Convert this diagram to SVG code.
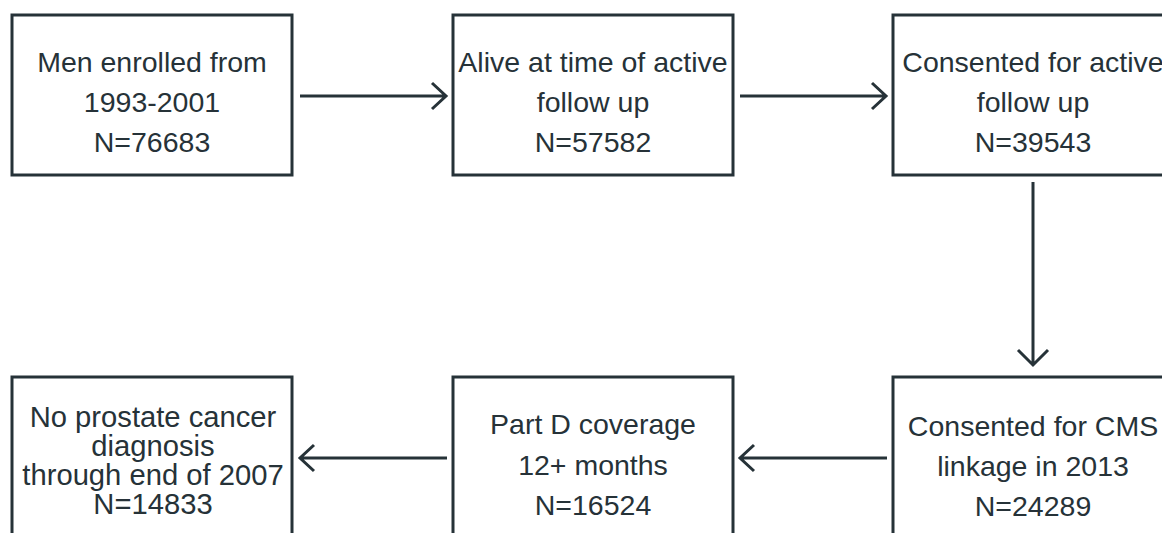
<svg xmlns="http://www.w3.org/2000/svg" width="1162" height="533" viewBox="0 0 1162 533">
<style>
.box{fill:#ffffff;stroke:#263238;stroke-width:3}
.t{font-family:"Liberation Sans",Arial,sans-serif;font-size:28.5px;fill:#263238;text-anchor:middle}
.t2{font-size:29.2px}
.c{fill:none;stroke:#263238;stroke-width:3}
</style>
<rect width="1162" height="533" fill="#ffffff"/>
<g id="node-men-enrolled">
<rect class="box" x="12" y="15" width="280" height="160"/>
<text class="t" x="152" y="72">Men enrolled from</text>
<text class="t" x="152" y="112">1993-2001</text>
<text class="t" x="152" y="152">N=76683</text>
</g>
<g id="node-alive">
<rect class="box" x="453" y="15" width="280" height="160"/>
<text class="t" x="593" y="72">Alive at time of active</text>
<text class="t" x="593" y="112">follow up</text>
<text class="t" x="593" y="152">N=57582</text>
</g>
<g id="node-consented-active">
<rect class="box" x="893" y="15" width="280" height="160"/>
<text class="t" x="1033" y="72">Consented for active</text>
<text class="t" x="1033" y="112">follow up</text>
<text class="t" x="1033" y="152">N=39543</text>
</g>
<g id="node-consented-cms">
<rect class="box" x="893" y="377" width="280" height="170"/>
<text class="t" x="1033" y="436">Consented for CMS</text>
<text class="t" x="1033" y="476">linkage in 2013</text>
<text class="t" x="1033" y="516">N=24289</text>
</g>
<g id="node-part-d">
<rect class="box" x="453" y="377" width="280" height="170"/>
<text class="t" x="593" y="434">Part D coverage</text>
<text class="t" x="593" y="475">12+ months</text>
<text class="t" x="593" y="515">N=16524</text>
</g>
<g id="node-no-prostate">
<rect class="box" x="12" y="377" width="280" height="170"/>
<text class="t t2" x="153" y="427">No prostate cancer</text>
<text class="t t2" x="153" y="456">diagnosis</text>
<text class="t t2" x="153" y="485">through end of 2007</text>
<text class="t t2" x="153" y="514">N=14833</text>
</g>
<g id="connectors">
<path class="c" d="M300 96H446M432 83L446 96L432 109"/>
<path class="c" d="M740 96H886M872 83L886 96L872 109"/>
<path class="c" d="M1033 182V365M1018 350L1033 365L1048 350"/>
<path class="c" d="M887 458H740M754 445L740 458L754 471"/>
<path class="c" d="M447 458H300M314 445L300 458L314 471"/>
</g>
</svg>
